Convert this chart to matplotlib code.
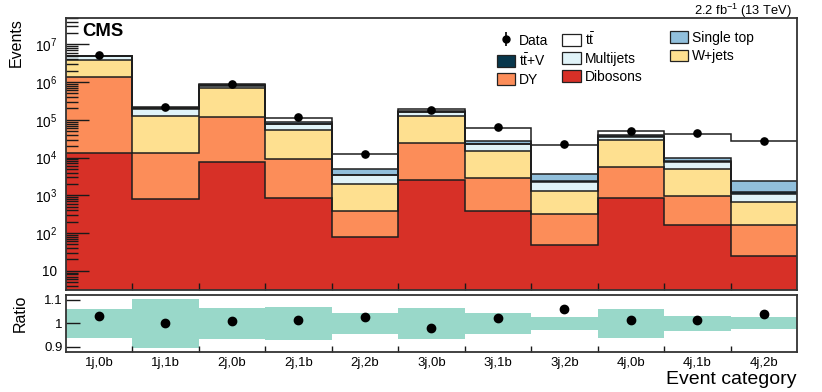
import numpy as np
import matplotlib
matplotlib.use('Agg')
import matplotlib.pyplot as plt
from matplotlib.patches import Patch
from matplotlib.ticker import FixedLocator, LogLocator, FuncFormatter, NullFormatter

plt.rcParams['font.family'] = ['Liberation Sans', 'DejaVu Sans']
plt.rcParams['mathtext.fontset'] = 'custom'
plt.rcParams['mathtext.rm'] = 'Liberation Sans'
plt.rcParams['mathtext.it'] = 'Liberation Sans:italic'
plt.rcParams['mathtext.bf'] = 'Liberation Sans:bold'

categories = ['1j,0b', '1j,1b', '2j,0b', '2j,1b', '2j,2b', '3j,0b',
              '3j,1b', '3j,2b', '4j,0b', '4j,1b', '4j,2b']
dibosons = [1.3e4, 800, 7800, 870, 76, 2570, 380, 47, 840, 158, 23]
dy = [1.39e6, 12800, 110000, 8330, 296, 21400, 2460, 269, 4960, 822, 135]
wjets = [2.5e6, 116400, 572000, 44800, 1600, 106000, 12460, 1024, 23700, 3920, 502]
multijets = [9.5e5, 65000, 120000, 23000, 1450, 28000, 7400, 890, 6500, 2800, 440]
ttv = [1.5e4, 5000, 10000, 3000, 100, 8000, 800, 150, 2000, 400, 100]
single_top = [4e4, 5000, 10000, 6000, 1580, 10000, 4500, 1320, 2000, 1500, 1200]
ttbar = [1.5e5, 15000, 50000, 29000, 7200, 14000, 34000, 18300, 11000, 33400, 24600]
data = [5.22e6, 2.207e5, 8.87e5, 1.165e5, 1.263e4, 1.86e5, 6.33e4, 2.336e4, 5.17e4, 4.36e4, 2.81e4]
syst_unc = [0.062, 0.105, 0.065, 0.069, 0.044, 0.067, 0.045, 0.027, 0.061, 0.033, 0.025]

layers = [
    (dibosons, '#d73027', 'Dibosons'),
    (dy, '#fc8d59', 'DY'),
    (wjets, '#fee090', 'W+jets'),
    (multijets, '#e0f3f8', 'Multijets'),
    (ttv, '#08374c', r'$\mathrm{t\bar{t}}$+V'),
    (single_top, '#91bfdb', 'Single top'),
    (ttbar, '#ffffff', r'$\mathrm{t\bar{t}}$'),
]

W, H = 822, 392
fig = plt.figure(figsize=(W / 100, H / 100), dpi=100)
ax = fig.add_axes([65.7 / W, 1 - 290 / H, (797 - 65.7) / W, (290 - 18) / H])
rax = fig.add_axes([65.7 / W, 1 - 351.7 / H, (797 - 65.7) / W, (351.7 - 295) / H])

n = len(categories)
edges = np.arange(n + 1, dtype=float)
centers = edges[:-1] + 0.5

base = np.full(n, 1.0)
tops = []
handles = {}
for vals, col, lab in layers:
    top = base + np.array(vals, dtype=float)
    ax.stairs(top, edges, baseline=base, fill=True, color=col, lw=0)
    tops.append(top)
    base = top
    handles[lab] = Patch(facecolor=col, edgecolor='#222222', lw=0.9)
for top in tops:
    ax.stairs(top, edges, baseline=None, color='#1e1e1e', lw=1.1)
total = tops[-1] - 1.0

ax.plot(centers, data, 'o', color='k', ms=5.2, zorder=5)
hdata = ax.errorbar([np.nan], [np.nan], yerr=[[1], [1]], fmt='o', color='k', ms=5, elinewidth=1.2)

ax.set_yscale('log')
ax.set_ylim(3.1, 5e7)
ax.set_xlim(0, n)
ax.yaxis.set_major_locator(FixedLocator([10.0 ** k for k in range(1, 8)]))
ax.yaxis.set_minor_locator(LogLocator(base=10, subs=np.arange(2, 10), numticks=30))
ax.yaxis.set_minor_formatter(NullFormatter())
ax.yaxis.set_major_formatter(FuncFormatter(
    lambda v, p: '10' if abs(v - 10) < 1e-6 else r'$10^{%d}$' % round(np.log10(v))))
ax.set_xticks(edges[1:-1])
ax.tick_params(axis='y', which='major', direction='in', length=16.5, width=1.0, labelsize=9.8, pad=6, color='#1a1a1a')
ax.tick_params(axis='y', which='minor', direction='in', length=8.5, width=1.0, color='#1a1a1a')
ax.tick_params(axis='x', which='major', direction='in', length=5, width=1.0, labelbottom=False, color='#1a1a1a')

ratio = np.array(data) / total
unc = np.array(syst_unc)
rax.stairs(1 + unc, edges, baseline=1 - unc, fill=True, color='#99d8c9', lw=0)
rax.plot(centers, ratio, 'o', color='k', ms=6, zorder=5)
rax.set_xlim(0, n)
rax.set_ylim(0.88, 1.12)
rax.set_yticks([0.9, 1.0, 1.1])
rax.set_yticklabels(['0.9', '1', '1.1'])
rax.tick_params(axis='y', direction='in', length=10, width=1.0, labelsize=9.5, pad=2, color='#1a1a1a')
rax.set_xticks(edges[1:-1])
rax.set_xticklabels([])
rax.tick_params(axis='x', which='major', direction='in', length=4, width=1.0, color='#1a1a1a')
rax.set_xticks(centers, minor=True)
rax.set_xticklabels(categories, minor=True)
rax.tick_params(axis='x', which='minor', length=0, labelsize=9.5, pad=3.5)

for a in (ax, rax):
    for s in a.spines.values():
        s.set_color('#333333')
        s.set_linewidth(1.3)

ax.set_ylabel('Events', fontsize=11.5, loc='top')
ax.yaxis.set_label_coords(-0.057, 1.0)
rax.set_ylabel('Ratio', fontsize=11.5, loc='top')
rax.yaxis.set_label_coords(-0.0516, 1.0)
rax.set_xlabel('Event category', fontsize=14, loc='right')
rax.xaxis.label.set_va('baseline')
rax.xaxis.set_label_coords(1.0, (351.7 - 384.5) / 56.7)

ax.text(0.0227, 0.932, 'CMS', fontweight='bold', fontsize=13.3, transform=ax.transAxes, va='baseline')
fig.text(791.7 / W, 1 - 14.5 / H, r'2.2 fb$^{-1}$ (13 TeV)', ha='right', va='baseline', fontsize=9.3)

tt_lab = r'$\mathrm{t\bar{t}}$'
ttv_lab = r'$\mathrm{t\bar{t}}$+V'
leg_kw = dict(loc='upper left', bbox_transform=fig.transFigure, frameon=False, fontsize=10,
              handlelength=1.3, handleheight=0.9, handletextpad=0.3, labelspacing=0.3,
              borderpad=0, borderaxespad=0)
leg1 = ax.legend([hdata, handles[ttv_lab], handles['DY'], handles[tt_lab], handles['Multijets'], handles['Dibosons']],
                 ['Data', ttv_lab, 'DY', tt_lab, 'Multijets', 'Dibosons'],
                 ncol=2, columnspacing=1.0, bbox_to_anchor=(497 / W, 1 - 31 / H), **leg_kw)
ax.add_artist(leg1)
ax.legend([handles['Single top'], handles['W+jets']], ['Single top', 'W+jets'],
          ncol=1, bbox_to_anchor=(670 / W, 1 - 31 / H), **leg_kw)

fig.savefig('out.png', dpi=100)
